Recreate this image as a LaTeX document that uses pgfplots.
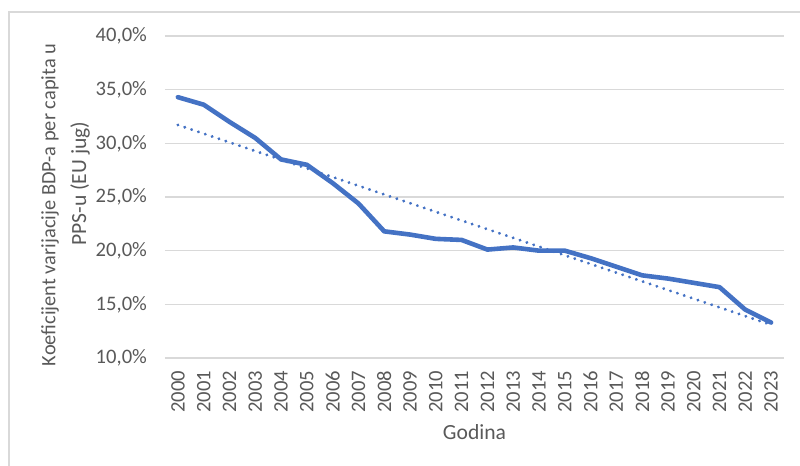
\documentclass[border=0pt]{standalone}
\usepackage{fontspec}
\setmainfont{Carlito}
\usepackage{pgfplots}
\usepackage{pgfplotstable}
\pgfplotsset{compat=1.18}
\definecolor{serie}{HTML}{4472C4}
\definecolor{gridc}{HTML}{D9D9D9}
\definecolor{txt}{HTML}{595959}
\pgfplotstableread{
X Y
0 34.3
1 33.6
2 32.0
3 30.5
4 28.5
5 28.0
6 26.3
7 24.4
8 21.8
9 21.5
10 21.1
11 21.0
12 20.1
13 20.3
14 20.0
15 20.0
16 19.3
17 18.5
18 17.7
19 17.4
20 17.0
21 16.6
22 14.5
23 13.3
}\cvdata
\begin{document}
\begin{tikzpicture}
\useasboundingbox (0,0) rectangle (400pt,233pt);
\draw[gridc, line width=1pt] (4.5pt,-5pt) -- (4.5pt,227pt) -- (410pt,227pt);
\begin{axis}[
  at={(82.5pt,54pt)}, anchor=south west,
  scale only axis, width=309.5pt, height=161pt,
  xmin=-0.5, xmax=23.5, ymin=10, ymax=40,
  axis line style={draw=none},
  major tick length=0pt,
  ymajorgrids, grid style={gridc, line width=0.8pt},
  ytick={10,15,20,25,30,35,40},
  yticklabels={{10,0\%},{15,0\%},{20,0\%},{25,0\%},{30,0\%},{35,0\%},{40,0\%}},
  xtick={0,...,23},
  xticklabels={2000,2001,2002,2003,2004,2005,2006,2007,2008,2009,2010,2011,2012,2013,2014,2015,2016,2017,2018,2019,2020,2021,2022,2023},
  ticklabel style={font=\fontsize{10.3}{12}\selectfont, text=txt},
  yticklabel style={anchor=east, xshift=-5.5pt},
  xticklabel style={rotate=90, anchor=east, xshift=0pt, yshift=0pt, inner sep=6.3pt},
  xlabel={Godina},
  xlabel style={at={(axis description cs:0.5,-0.2516)}, anchor=base, font=\fontsize{10.8}{13}\selectfont, text=txt},
  clip=false,
]
\addplot[serie, line width=2.3pt, line join=round, line cap=round] table[x=X,y=Y] {\cvdata};
\addplot[serie, line width=1.6pt, line cap=round, dash pattern=on 0.01pt off 3.6pt] table[x=X, y={create col/linear regression={y=Y}}] {\cvdata};
\end{axis}
\node[rotate=90, anchor=center, text=txt, font=\fontsize{10.2}{13}\selectfont] at (25pt,130.5pt) {Koeficijent varijacije BDP-a per capita u};
\node[rotate=90, anchor=center, text=txt, font=\fontsize{10.8}{13}\selectfont] at (40pt,141.25pt) {PPS-u (EU jug)};
\end{tikzpicture}
\end{document}
